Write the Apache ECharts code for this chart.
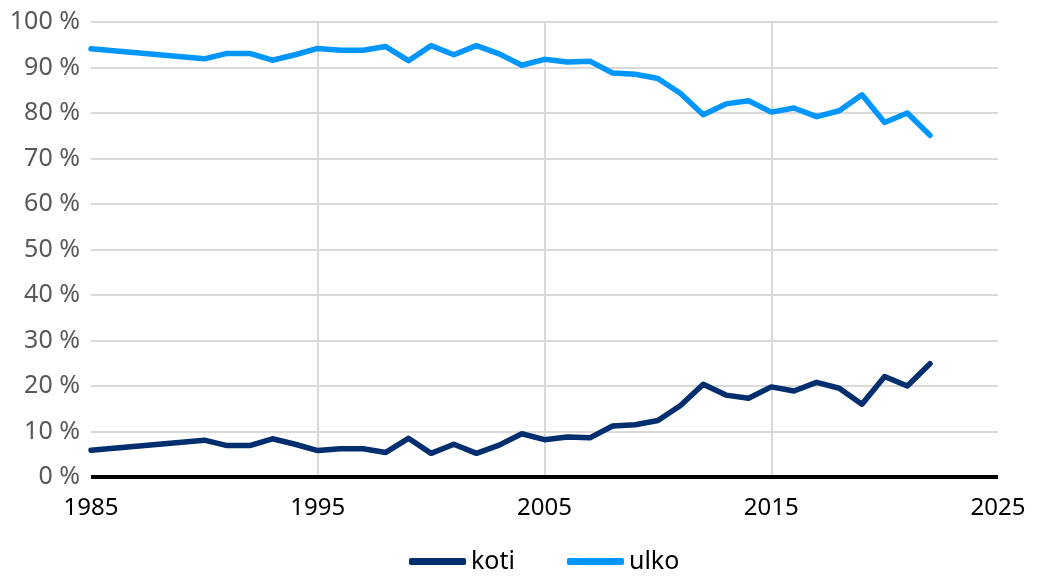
<!DOCTYPE html>
<html>
<head>
<meta charset="utf-8">
<script src="https://cdn.jsdelivr.net/npm/echarts@6/dist/echarts.min.js"></script>
<style>
  html, body { margin: 0; padding: 0; background: #fff; }
  #chart { width: 1037px; height: 576px; }
</style>
</head>
<body>
<div id="chart"></div>
<script>
// Years with observations (no data between 1985 and 1990)
const years = [1985, 1990, 1991, 1992, 1993, 1994, 1995, 1996, 1997, 1998, 1999,
  2000, 2001, 2002, 2003, 2004, 2005, 2006, 2007, 2008, 2009, 2010, 2011,
  2012, 2013, 2014, 2015, 2016, 2017, 2018, 2019, 2020, 2021, 2022];

// Share (%) of "koti"
const koti = [5.9, 8.1, 6.9, 6.9, 8.4, 7.2, 5.8, 6.2, 6.2, 5.4, 8.5,
  5.2, 7.2, 5.2, 7.0, 9.5, 8.2, 8.8, 8.6, 11.2, 11.5, 12.4, 15.7,
  20.4, 18.0, 17.3, 19.8, 18.9, 20.8, 19.5, 16.0, 22.1, 20.0, 24.9];

// Share (%) of "ulko"
const ulko = [94.1, 91.9, 93.1, 93.1, 91.6, 92.8, 94.2, 93.8, 93.8, 94.6, 91.5,
  94.8, 92.8, 94.8, 93.0, 90.5, 91.8, 91.2, 91.4, 88.8, 88.5, 87.6, 84.3,
  79.6, 82.0, 82.7, 80.2, 81.1, 79.2, 80.5, 84.0, 77.9, 80.0, 75.1];

const xTicks = { min: 1985, max: 2025, step: 10 };
const yTicks = { min: 0, max: 100, step: 10 };

const seriesNames = ['koti', 'ulko'];
const seriesColors = ['#002e6e', '#0096ff'];

const chart = echarts.init(document.getElementById('chart'), null, { renderer: 'canvas' });

const toPairs = vals => years.map((y, i) => [y, vals[i]]);

chart.setOption({
  animation: false,
  textStyle: { fontFamily: 'Noto Sans' },
  grid: { left: 91, right: 39, top: 22, bottom: 99, containLabel: false },
  legend: {
    bottom: -3,
    left: 404,
    icon: 'roundRect',
    itemWidth: 57,
    itemHeight: 7,
    itemGap: 52,
    textStyle: { fontSize: 25, color: '#000', fontFamily: 'Noto Sans' },
    data: seriesNames
  },
  xAxis: {
    type: 'value',
    min: xTicks.min,
    max: xTicks.max,
    interval: xTicks.step,
    axisLine: { show: false },
    axisTick: { show: false },
    axisLabel: {
      fontSize: 24,
      color: '#000',
      margin: 19,
      formatter: v => String(v)
    },
    splitLine: {
      show: true,
      showMinLine: false,
      showMaxLine: false,
      lineStyle: { color: '#d9d9d9', width: 2 }
    }
  },
  yAxis: {
    type: 'value',
    min: yTicks.min,
    max: yTicks.max,
    interval: yTicks.step,
    axisLine: { show: false },
    axisTick: { show: false },
    axisLabel: {
      fontSize: 25,
      color: '#595959',
      margin: 11,
      formatter: v => v + ' %'
    },
    splitLine: {
      show: true,
      lineStyle: { color: '#d9d9d9', width: 2 }
    }
  },
  series: [
    {
      name: seriesNames[0],
      type: 'line',
      data: toPairs(koti),
      showSymbol: false,
      symbol: 'none',
      color: seriesColors[0],
      lineStyle: { width: 5.5, color: seriesColors[0], cap: 'round', join: 'round' },
      z: 3
    },
    {
      name: seriesNames[1],
      type: 'line',
      data: toPairs(ulko),
      showSymbol: false,
      symbol: 'none',
      color: seriesColors[1],
      lineStyle: { width: 5.5, color: seriesColors[1], cap: 'round', join: 'round' },
      z: 3
    },
    {
      // zero baseline drawn as a thick black rule
      type: 'line',
      data: [[xTicks.min, 0], [xTicks.max, 0]],
      symbol: 'none',
      silent: true,
      lineStyle: { width: 4, color: '#000' },
      z: 2,
      legendHoverLink: false
    }
  ]
});
</script>
</body>
</html>
